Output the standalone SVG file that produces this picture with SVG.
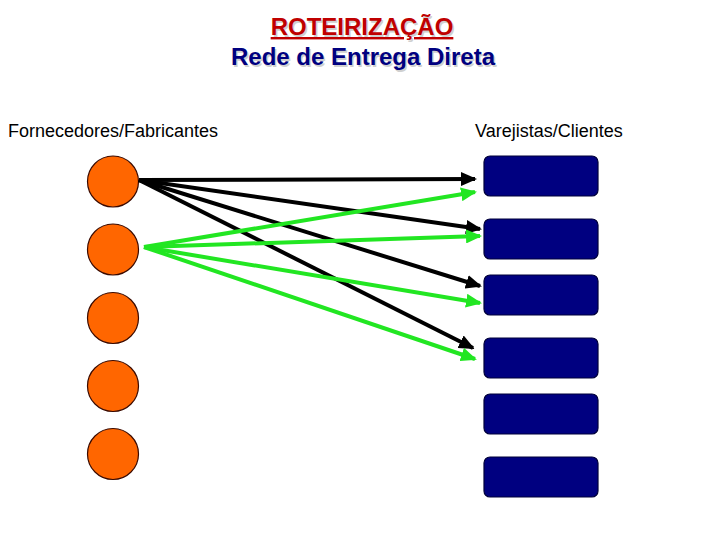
<svg xmlns="http://www.w3.org/2000/svg" width="720" height="540" viewBox="0 0 720 540">
<style>
.title{font-family:"Liberation Sans",Arial,sans-serif;font-weight:bold;font-size:24px;text-anchor:middle}
.lbl{font-family:"Liberation Sans",Arial,sans-serif;font-size:18px;fill:#000}
.src{fill:#ff6600;stroke:#3a0a00;stroke-width:1.2}
.dst{fill:#000080;stroke:#00003a;stroke-width:1.2}
.blk{stroke:#000;stroke-width:4;fill:none}
.grn{stroke:#22e622;stroke-width:4;fill:none}
</style>
<defs>
<marker id="ab" markerUnits="userSpaceOnUse" markerWidth="16" markerHeight="14" refX="14" refY="7" orient="auto" viewBox="0 0 16 14">
<path d="M0,0 L16,7 L0,14 z" fill="#000"/>
</marker>
<marker id="ag" markerUnits="userSpaceOnUse" markerWidth="16" markerHeight="14" refX="14" refY="7" orient="auto" viewBox="0 0 16 14">
<path d="M0,0 L16,7 L0,14 z" fill="#22e622"/>
</marker>
</defs>
<rect width="720" height="540" fill="#fff"/>
<g id="title">
<text class="title" x="363.5" y="36.5" fill="#d0d0d0">ROTEIRIZAÇÃO</text>
<text class="title" x="362" y="35" fill="#c00000" text-decoration="underline">ROTEIRIZAÇÃO</text>
<text class="title" x="364.5" y="66.5" fill="#d0d0d0">Rede de Entrega Direta</text>
<text class="title" x="363" y="65" fill="#000080">Rede de Entrega Direta</text>
</g>
<text class="lbl" x="8" y="137">Fornecedores/Fabricantes</text>
<text class="lbl" x="475" y="137">Varejistas/Clientes</text>
<g id="s1"><circle class="src" cx="113" cy="181.5" r="25.5"/></g>
<g id="s2"><circle class="src" cx="113" cy="249.5" r="25.5"/></g>
<g id="s3"><circle class="src" cx="113" cy="318" r="25.5"/></g>
<g id="s4"><circle class="src" cx="113" cy="386" r="25.5"/></g>
<g id="s5"><circle class="src" cx="113" cy="454" r="25.5"/></g>
<g id="d1"><rect class="dst" x="484" y="156" width="114" height="40" rx="6"/></g>
<g id="d2"><rect class="dst" x="484" y="219" width="114" height="40" rx="6"/></g>
<g id="d3"><rect class="dst" x="484" y="275" width="114" height="40" rx="6"/></g>
<g id="d4"><rect class="dst" x="484" y="338" width="114" height="40" rx="6"/></g>
<g id="d5"><rect class="dst" x="484" y="394" width="114" height="40" rx="6"/></g>
<g id="d6"><rect class="dst" x="484" y="457" width="114" height="40" rx="6"/></g>
<g id="connectors">
<line class="blk" x1="139" y1="180" x2="475" y2="179" marker-end="url(#ab)"/>
<line class="blk" x1="139" y1="180" x2="480" y2="229" marker-end="url(#ab)"/>
<line class="blk" x1="139" y1="180" x2="480" y2="286" marker-end="url(#ab)"/>
<line class="blk" x1="139" y1="180" x2="473" y2="348" marker-end="url(#ab)"/>
<line class="grn" x1="144" y1="247" x2="475" y2="192" marker-end="url(#ag)"/>
<line class="grn" x1="144" y1="247" x2="480" y2="236" marker-end="url(#ag)"/>
<line class="grn" x1="144" y1="247" x2="480" y2="303" marker-end="url(#ag)"/>
<line class="grn" x1="144" y1="247" x2="475" y2="359" marker-end="url(#ag)"/>
</g>
</svg>
